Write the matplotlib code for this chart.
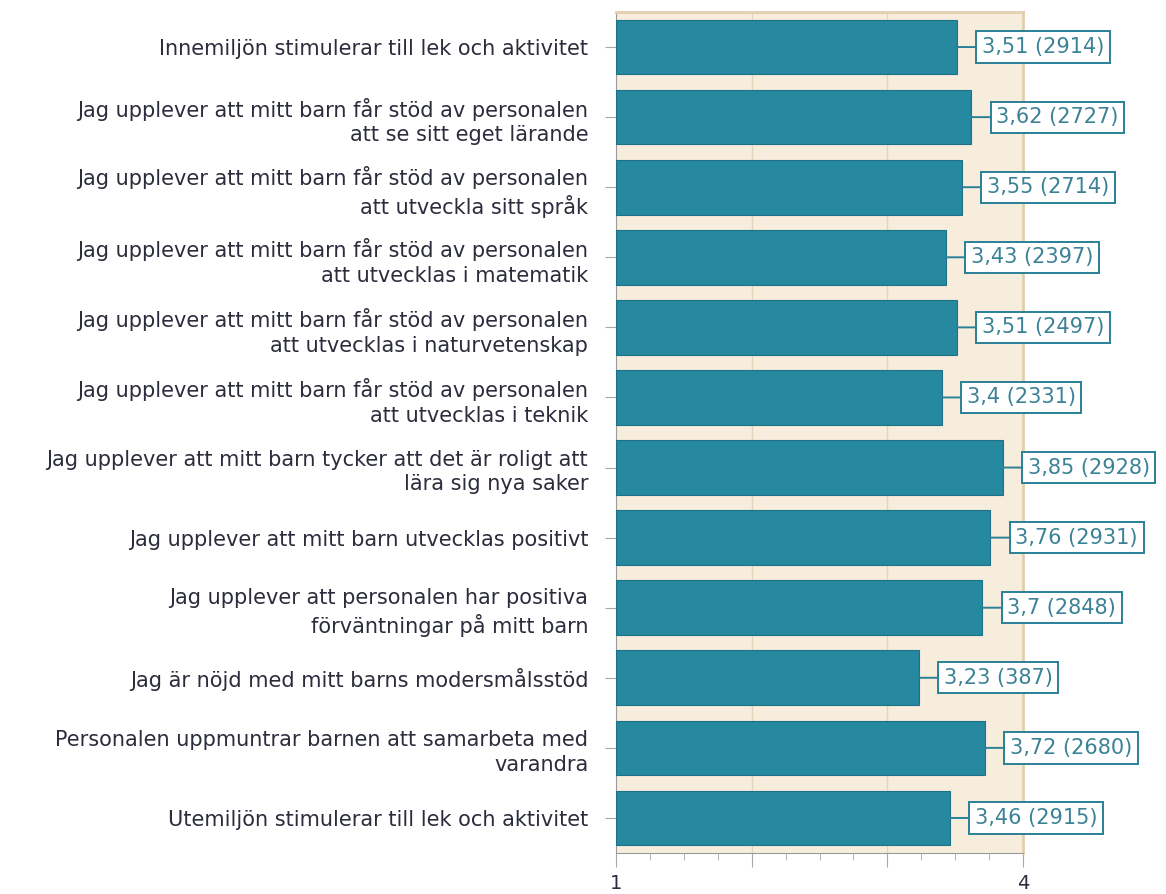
import numpy as np
import matplotlib.pyplot as plt
from matplotlib.ticker import MultipleLocator

questions = [
    "Innemiljön stimulerar till lek och aktivitet",
    "Jag upplever att mitt barn får stöd av personalen\natt se sitt eget lärande",
    "Jag upplever att mitt barn får stöd av personalen\natt utveckla sitt språk",
    "Jag upplever att mitt barn får stöd av personalen\natt utvecklas i matematik",
    "Jag upplever att mitt barn får stöd av personalen\natt utvecklas i naturvetenskap",
    "Jag upplever att mitt barn får stöd av personalen\natt utvecklas i teknik",
    "Jag upplever att mitt barn tycker att det är roligt att\nlära sig nya saker",
    "Jag upplever att mitt barn utvecklas positivt",
    "Jag upplever att personalen har positiva\nförväntningar på mitt barn",
    "Jag är nöjd med mitt barns modersmålsstöd",
    "Personalen uppmuntrar barnen att samarbeta med\nvarandra",
    "Utemiljön stimulerar till lek och aktivitet",
]
means = [3.51, 3.62, 3.55, 3.43, 3.51, 3.4, 3.85, 3.76, 3.7, 3.23, 3.72, 3.46]
counts = [2914, 2727, 2714, 2397, 2497, 2331, 2928, 2931, 2848, 387, 2680, 2915]

bar_col = "#2689a0"
text_col = "#2b2d3c"
lab_col = "#3b8296"

fig = plt.figure(figsize=(11.66, 8.94), dpi=100)
ax = fig.add_axes([616 / 1166, 1 - 853 / 894, (1023 - 616) / 1166, (853 - 12) / 894])
ax.set_facecolor("#f7eddd")

y = np.arange(len(questions))
ax.barh(y, np.array(means) - 1, left=1, height=0.78, color=bar_col,
        edgecolor="#1f7187", linewidth=0.8, zorder=3)

for yi, m, n in zip(y, means, counts):
    txt = f"{m}".replace(".", ",") + f" ({n})"
    ax.annotate(txt, xy=(m, yi), xytext=(25, 0), textcoords="offset pixels",
                ha="left", va="center", fontsize=15, color=lab_col,
                annotation_clip=False, zorder=5,
                bbox=dict(boxstyle="square,pad=0.27", fc="white", ec="#2a8096", lw=1.4),
                arrowprops=dict(arrowstyle="-", color="#2a8096", lw=1.4,
                                shrinkA=0, shrinkB=0))

ax.set_xlim(1, 4)
ax.set_ylim(11.5, -0.5)
ax.set_xticks([1, 2, 3, 4])
ax.set_xticklabels(["1", "", "", "4"])
ax.xaxis.set_minor_locator(MultipleLocator(0.25))
ax.set_yticks(y)
ax.set_yticklabels(questions, fontsize=15, color=text_col, linespacing=1.3)
ax.tick_params(axis="x", which="major", length=10, color="#a8a8a8", labelsize=14,
               labelcolor=text_col, pad=5)
ax.tick_params(axis="x", which="minor", length=5, color="#a8a8a8")
ax.tick_params(axis="y", length=8, color="#a8a8a8", pad=12)

for xv in [2, 3]:
    ax.axvline(xv, color="#e3d4bb", lw=1, zorder=1)

for s in ["top", "right"]:
    ax.spines[s].set_color("#e3cfae")
    ax.spines[s].set_linewidth(2)
ax.spines["left"].set_color("#9a9a9a")
ax.spines["bottom"].set_color("#9a9a9a")

fig.savefig("out.png", dpi=100)
